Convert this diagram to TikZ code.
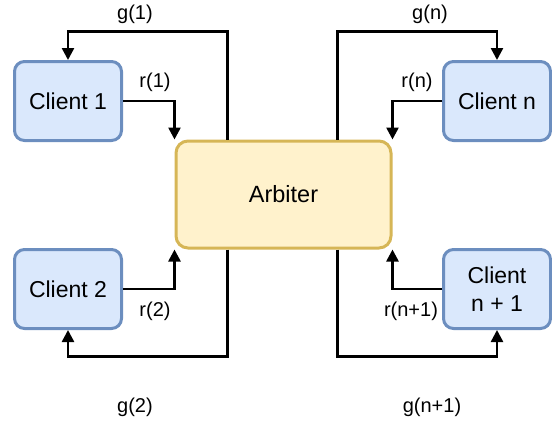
\documentclass[tikz,border=0pt]{standalone}
\usepackage{fontspec}
\setmainfont{Liberation Sans}
\usetikzlibrary{arrows.meta,calc}
\definecolor{cfill}{HTML}{DAE8FC}
\definecolor{cdraw}{HTML}{6C8EBF}
\definecolor{afill}{HTML}{FFF2CC}
\definecolor{adraw}{HTML}{D6B656}
\tikzset{
  client/.style={draw=cdraw,fill=cfill,line width=3pt,rounded corners=10pt,
    minimum width=107pt,minimum height=79pt,inner sep=0pt,align=center,
    font=\fontsize{23}{28}\selectfont},
  arbbox/.style={draw=adraw,fill=afill,line width=3pt,rounded corners=12pt,
    minimum width=215pt,minimum height=107pt,inner sep=0pt,
    font=\fontsize{23.5}{28}\selectfont},
  conn/.style={line width=2.5pt,-{Triangle[length=12pt,width=12pt]}},
  lbl/.style={inner sep=0pt,font=\fontsize{20}{24}\selectfont},
}
\begin{document}
\begin{tikzpicture}[x=1pt,y=-1pt]
\useasboundingbox (0,0) rectangle (552,424);
\node[arbbox] (arb) at (283.5,194.5) {Arbiter};
\node[client] (c1) at (68,101) {Client 1};
\node[client] (c2) at (68,289) {Client 2};
\node[client] (cn) at (497,101) {Client n};
\node[client] (cn1) at (497,289) {Client\\n + 1};
\draw[conn] ([xshift=53pt]arb.north west) -- ++(0,-108) -| (c1.north);
\draw[conn] (c1.east) -| (arb.north west);
\draw[conn] ([xshift=-55pt]arb.north east) -- ++(0,-108) -| (cn.north);
\draw[conn] (cn.west) -| (arb.north east);
\draw[conn] ([xshift=53pt]arb.south west) -- ++(0,107) -| (c2.south);
\draw[conn] (c2.east) -| (arb.south west);
\draw[conn] ([xshift=-55pt]arb.south east) -- ++(0,107) -| (cn1.south);
\draw[conn] (cn1.west) -| (arb.south east);
\node[lbl] (lg1) at (135,14) {g(1)};
\node[lbl] (lr1) at (155,82) {r(1)};
\node[lbl] (lgn) at (430,14) {g(n)};
\node[lbl] (lrn) at (417,82) {r(n)};
\node[lbl] (lr2) at (155,311) {r(2)};
\node[lbl] (lg2) at (135,407) {g(2)};
\node[lbl] (lrn1) at (411,311) {r(n+1)};
\node[lbl] (lgn1) at (432,407) {g(n+1)};
\end{tikzpicture}
\end{document}
